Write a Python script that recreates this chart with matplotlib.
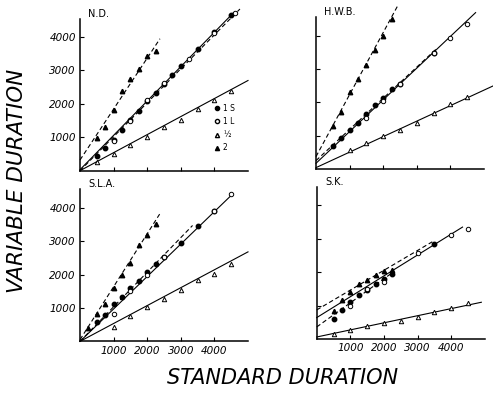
import matplotlib
matplotlib.use("Agg")
import matplotlib.pyplot as plt
from matplotlib.lines import Line2D

# ---- data (ms) ----
# N.D.
nd_two_x = [500, 750, 1000, 1250, 1500, 1750, 2000, 2250]
nd_two_y = [970, 1320, 1820, 2390, 2740, 3050, 3420, 3570]
nd_1s_x = [500, 750, 1000, 1250, 1500, 1750, 2000, 2250, 2500, 2750, 3000, 3500, 4000, 4500]
nd_1s_y = [430, 680, 930, 1230, 1520, 1780, 2100, 2340, 2600, 2870, 3120, 3640, 4150, 4670]
nd_1l_x = [1000, 1500, 2000, 2500, 3250, 4000, 4600]
nd_1l_y = [880, 1500, 2130, 2640, 3330, 4120, 4720]
nd_half_x = [500, 1000, 1500, 2000, 2500, 3000, 3500, 4000, 4500]
nd_half_y = [250, 500, 760, 1000, 1310, 1530, 1860, 2130, 2400]

# H.W.B.
hwb_two_x = [500, 750, 1000, 1250, 1500, 1750, 2000, 2250]
hwb_two_y = [1300, 1730, 2300, 2710, 3130, 3580, 4000, 4500]
hwb_1s_x = [500, 750, 1000, 1250, 1500, 1750, 2000, 2250, 2500, 3500]
hwb_1s_y = [710, 930, 1180, 1380, 1660, 1930, 2130, 2400, 2550, 3480]
hwb_1l_x = [1500, 2000, 2500, 3500, 4000, 4500]
hwb_1l_y = [1530, 2030, 2540, 3480, 3930, 4360]
hwb_half_x = [1000, 1500, 2000, 2500, 3000, 3500, 4000, 4500]
hwb_half_y = [580, 780, 1000, 1180, 1400, 1690, 1940, 2160]

# S.L.A.
sla_two_x = [250, 500, 750, 1000, 1250, 1500, 1750, 2000, 2250]
sla_two_y = [410, 820, 1130, 1590, 2000, 2360, 2880, 3190, 3510]
sla_1s_x = [500, 750, 1000, 1250, 1500, 1750, 2000, 2250, 2500, 3000, 3500, 4000]
sla_1s_y = [580, 800, 1120, 1330, 1600, 1810, 2090, 2330, 2530, 2960, 3460, 3900]
sla_1l_x = [1000, 1500, 2000, 2500, 4000, 4500]
sla_1l_y = [820, 1500, 1990, 2520, 3900, 4400]
sla_half_x = [1000, 1500, 2000, 2500, 3000, 3500, 4000, 4500]
sla_half_y = [430, 770, 1030, 1280, 1540, 1840, 2030, 2330]

# S.K.
sk_two_x = [500, 750, 1000, 1250, 1500, 1750, 2000, 2250]
sk_two_y = [850, 1170, 1420, 1660, 1760, 1910, 2030, 2080]
sk_1s_x = [500, 750, 1000, 1250, 1500, 1750, 2000, 2250, 3500]
sk_1s_y = [610, 870, 1100, 1310, 1460, 1640, 1790, 1950, 2830]
sk_1l_x = [1000, 1500, 2000, 3000, 4000, 4500]
sk_1l_y = [1000, 1490, 1700, 2570, 3110, 3290]
sk_half_x = [500, 1000, 1500, 2000, 2500, 3000, 3500, 4000, 4500]
sk_half_y = [150, 265, 380, 480, 540, 660, 800, 930, 1070]

# fitted lines as (x0, x1), (y0, y1), style
nd_lines = [([0, 2380], [320, 3950], "--"), ([0, 4560], [30, 4720], "-"),
            ([0, 4760], [0, 4840], "--"), ([0, 5000], [0, 2700], "-")]
hwb_lines = [([0, 2450], [380, 4930], "--"), ([0, 4750], [180, 4690], "-"),
             ([0, 3600], [260, 3620], "--"), ([0, 5280], [50, 2500], "-")]
sla_lines = [([0, 2370], [50, 3810], "--"), ([0, 4520], [0, 4390], "-"),
             ([0, 3350], [0, 3470], "--"), ([0, 5000], [0, 2680], "-")]
sk_lines = [([0, 3440], [870, 2910], "--"), ([0, 4340], [640, 3350], "-"),
            ([0, 2300], [360, 2020], "--"), ([0, 4900], [60, 1100], "-")]

ticks = [1000, 2000, 3000, 4000]
legend_labels = ["1 S", "1 L", "\u00bd", "2"]

panels = [
    ("N.D.", [80, 170.7], nd_lines, nd_1s_x, nd_1s_y, nd_1l_x, nd_1l_y,
     nd_half_x, nd_half_y, nd_two_x, nd_two_y, False, True),
    ("H.W.B.", [316, 169.3], hwb_lines, hwb_1s_x, hwb_1s_y, hwb_1l_x, hwb_1l_y,
     hwb_half_x, hwb_half_y, hwb_two_x, hwb_two_y, False, False),
    ("S.L.A.", [80, 341.4], sla_lines, sla_1s_x, sla_1s_y, sla_1l_x, sla_1l_y,
     sla_half_x, sla_half_y, sla_two_x, sla_two_y, True, True),
    ("S.K.", [316.7, 339], sk_lines, sk_1s_x, sk_1s_y, sk_1l_x, sk_1l_y,
     sk_half_x, sk_half_y, sk_two_x, sk_two_y, True, False),
]

W, H = 493, 394
fig = plt.figure(figsize=(W / 100, H / 100), dpi=100)

for (name, org, lines, sx, sy, lx, ly, hx, hy, tx, ty, xlab, ylab) in panels:
    left = org[0] / W
    bottom = (H - org[1]) / H
    ax = fig.add_axes([left, bottom, 168 / W, 152 / H])
    ax.set_xlim(0, 5000)
    ax.set_ylim(0, 4550)
    for s in ["top", "right"]:
        ax.spines[s].set_visible(False)
    for s in ["left", "bottom"]:
        ax.spines[s].set_linewidth(1.1)

    for xs, ys, ls in lines:
        ax.plot(xs, ys, ls, color="black", lw=0.8, dashes=(4, 2.5) if ls == "--" else (None, None),
                clip_on=False)

    ms = 3.2
    ax.plot(sx, sy, "o", color="black", ms=ms, clip_on=False)
    ax.plot(lx, ly, "o", mfc="white", mec="black", mew=0.7, ms=ms, clip_on=False)
    ax.plot(hx, hy, "^", mfc="white", mec="black", mew=0.7, ms=ms, clip_on=False)
    ax.plot(tx, ty, "^", color="black", ms=ms, clip_on=False)

    ax.set_xticks(ticks)
    ax.set_yticks(ticks)
    ax.tick_params(direction="in", length=3, width=0.8, labelsize=7.5, pad=3)
    if xlab:
        ax.set_xticklabels([str(t) for t in ticks], style="italic")
    else:
        ax.set_xticklabels([])
    if ylab:
        ax.set_yticklabels([str(t) for t in ticks], style="italic")
    else:
        ax.set_yticklabels([])

    ax.text(0.05, 1.0, name, transform=ax.transAxes, fontsize=7, ha="left", va="bottom")

    if name == "N.D.":
        handles = [
            Line2D([], [], ls="", marker="o", color="black", ms=3),
            Line2D([], [], ls="", marker="o", mfc="white", mec="black", ms=3),
            Line2D([], [], ls="", marker="^", mfc="white", mec="black", ms=3),
            Line2D([], [], ls="", marker="^", color="black", ms=3),
        ]
        ax.legend(handles, legend_labels, frameon=False, fontsize=5.5,
                  handlelength=0.6, handletextpad=0.5, labelspacing=0.55,
                  loc="center left", bbox_to_anchor=(0.76, 0.28))

fig.text(0.035, 0.54, "VARIABLE DURATION", rotation=90, fontsize=15.5, style="italic",
         ha="center", va="center")
fig.text(0.573, 0.04, "STANDARD DURATION", fontsize=15, style="italic",
         ha="center", va="center")

fig.savefig("out.png", dpi=100)
